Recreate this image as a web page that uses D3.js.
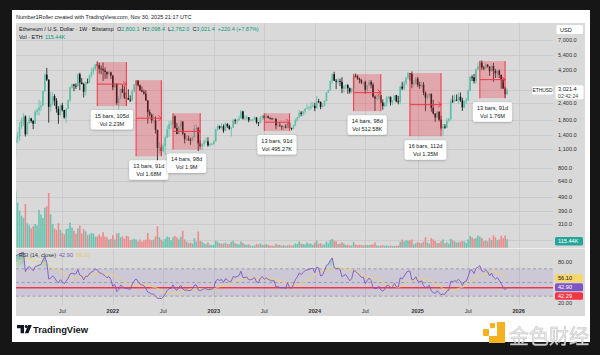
<!DOCTYPE html>
<html><head><meta charset="utf-8">
<script src="https://cdn.jsdelivr.net/npm/d3@7"></script>
<style>
html,body{margin:0;padding:0;background:#161616;}
svg{display:block;font-family:"Liberation Sans",Arial,sans-serif;}
</style></head><body>
<svg id="c" width="600" height="355"></svg>
<script>
// ---------------- DATA ----------------
const startWeek = "2021-01-18";
const firstOpen = 1230;
const warmupCloses = [240,236,310,390,395,433,391,434,353,365,384,355,346,370,366,407,383,455,460,550,575,595,590,640,685,975,1260,1230];
const closes = [
1330,1370,1610,1780,1920,1420,1720,1860,1780,1700,2080,2140,2240,2300,2950,3900,3580,2260,2390,2710,
2510,2180,1970,2320,2140,1890,2190,2530,3150,3300,3230,3220,3930,3410,3330,2920,3420,3410,3840,4070,
4290,4620,4570,4320,4290,4190,4080,3920,4050,3830,
3150,3330,2410,2600,3060,2880,2640,2620,2550,2520,2950,3300,3520,3260,2990,2920,2830,2520,2070,1980,
1800,1800,1530,1130,1140,1070,1170,1350,1550,1680,1700,1930,1580,1430,1620,1760,1440,1310,1320,1290,
1280,1360,1570,1580,1220,1160,1210,1260,1260,1180,1200,1210,
1260,1550,1630,1580,1630,1510,1690,1630,1560,1590,1800,1780,1800,1860,2090,1860,1870,1900,1800,1800,
1830,1890,1740,1720,1890,1950,1870,1930,1880,1860,1830,1850,1650,1650,1630,1610,1620,1590,1730,1580,
1560,1650,1790,1890,2050,2010,2090,2190,2220,2240,2280,2300,
2210,2480,2460,2260,2290,2500,2880,2990,3490,3930,3520,3460,3500,3450,3080,3200,3260,3100,2920,3070,
3820,3780,3660,3570,3420,3440,3020,3250,3450,3290,2690,2600,2610,2750,2430,2290,2420,2660,2680,2440,
2530,2750,2480,2450,3180,3080,3360,3700,3990,3960,3320,3350,3640,
3280,3220,3290,2870,2630,2720,2820,2220,2020,1890,2080,1820,1580,1620,1590,1790,1840,2510,2500,2550,
2530,2680,2520,2240,2500,2540,2970,3750,3720,3490,4260,4480,4780,4390,4310,4610,4470,4140,4510,4150,
3980,4160,3890,3560,3090,2800.1,3021.4];
const highs = [
1440,1475,1750,1880,2040,1960,1750,1950,1880,1810,2150,2200,2550,2480,2980,3990,4370,3600,2900,2890,
2800,2620,2280,2350,2420,2150,2200,2550,3180,3330,3340,3370,4000,4030,3680,3400,3480,3650,3900,4380,
4460,4660,4870,4770,4550,4780,4400,4120,4130,4100,
3880,3410,3360,2700,3070,3280,3190,2900,3040,2740,3020,3320,3580,3550,3300,3190,3030,3000,2530,2160,
2020,2010,1920,1540,1250,1190,1220,1380,1650,1780,1800,2020,1960,1720,1640,1790,1780,1460,1400,1390,
1340,1370,1660,1680,1610,1290,1220,1300,1350,1350,1230,1230,
1290,1560,1680,1650,1720,1680,1740,1720,1670,1600,1840,1850,1840,1950,2140,2120,1960,1960,1900,1850,
1840,1930,1890,1750,1930,1960,1980,2030,1950,1890,1880,1870,1860,1740,1750,1650,1650,1680,1750,1750,
1590,1670,1860,1920,2140,2100,2130,2210,2400,2300,2450,2440,
2420,2720,2590,2470,2400,2530,2900,3030,3520,3990,4090,3620,3680,3640,3730,3280,3300,3320,3130,3120,
3980,3970,3880,3700,3610,3480,3520,3270,3560,3560,3400,2740,2790,2820,2760,2570,2450,2700,2720,2690,
2540,2760,2770,2720,3250,3450,3500,3740,4090,4010,4110,3550,3750,
3740,3450,3450,3440,2930,2800,2850,2830,2550,2030,2100,2100,1950,1690,1690,1860,1880,2600,2740,2790,
2790,2880,2880,2640,2520,2640,3050,3800,3860,3940,4330,4790,4950,4960,4500,4770,4660,4480,4570,4750,
4290,4250,4250,3900,3660,3180,3098.4];
const lows = [
1000,1220,1270,1560,1640,1370,1410,1700,1730,1550,1690,1960,1950,2100,2300,2900,3500,1730,2100,2330,
2300,2050,1700,1950,2090,1850,1720,2170,2450,3080,2950,3060,3150,3000,3300,2650,2740,3360,3400,3700,
3900,4150,4500,3970,3920,3500,3630,3640,3880,3620,
2990,3100,2340,2160,2590,2850,2580,2300,2550,2450,2490,2880,3270,3180,2950,2900,2780,2500,1700,1920,
1710,1740,1440,880,1040,990,1050,1000,1330,1360,1560,1680,1560,1420,1420,1510,1400,1220,1270,1270,
1190,1260,1330,1520,1070,1150,1080,1160,1240,1150,1160,1180,
1190,1260,1510,1540,1560,1460,1500,1580,1530,1370,1580,1690,1690,1780,1850,1820,1800,1800,1740,1790,
1760,1820,1700,1630,1710,1820,1820,1860,1850,1820,1820,1820,1550,1630,1620,1530,1530,1570,1580,1550,
1520,1540,1640,1760,1860,1930,1930,1990,2180,2120,2150,2260,
2100,2200,2410,2170,2230,2280,2490,2860,2980,3350,3500,3050,3360,3210,2850,2870,3060,2820,2820,2860,
3040,3700,3570,3360,3320,3250,2820,2930,3200,3090,2630,2110,2530,2560,2400,2150,2250,2280,2580,2310,
2330,2520,2440,2360,2360,3000,3000,3260,3580,3520,3100,3220,3310,
3160,3070,3140,2750,2100,2550,2630,2080,1990,1750,1860,1760,1540,1385,1560,1570,1740,1780,2410,2440,
2490,2380,2450,2110,2200,2370,2500,2950,3500,3350,3350,4200,4080,4220,4200,4280,4390,3820,4080,3450,
3680,3710,3680,3060,3050,2620,2762.0];
const volumesK = [
760,610,500,430,400,590,330,300,260,290,320,300,510,450,400,540,560,740,450,320,
260,240,330,240,200,180,250,260,340,270,230,190,260,300,190,250,220,170,180,200,
190,150,150,180,150,210,150,140,110,120,
170,110,190,200,140,150,120,160,150,100,110,120,110,85,110,80,100,110,200,110,
100,110,150,290,140,110,90,120,150,140,100,140,160,140,110,150,230,110,80,60,
70,55,130,80,220,90,80,60,45,70,40,35,
40,95,80,60,55,55,70,50,50,80,95,60,50,45,85,65,45,40,45,28,
25,30,50,45,55,40,40,50,35,30,28,25,55,35,40,25,35,25,30,40,
30,35,60,50,85,55,50,45,70,55,55,40,
70,95,50,60,40,45,80,60,100,120,95,85,50,55,75,55,35,40,30,30,
75,45,35,40,35,30,40,35,35,40,45,70,30,28,30,35,25,30,22,30,
22,25,25,30,80,110,85,100,95,100,110,45,60,
75,65,60,80,140,70,55,130,110,90,60,65,85,110,60,75,55,120,100,85,
70,75,80,90,85,65,110,160,140,120,130,165,150,130,90,95,85,130,105,165,
140,100,110,160,130,165,115.44];

const priceTicks = [7000,5400,4200,3000,2400,1800,1400,1100,800,640,490,390,310];
const priceGridExtra = [240];
const timeTickDates = ["2021-07-05","2022-01-03","2022-07-04","2023-01-02","2023-07-03","2024-01-01","2024-07-01","2025-01-06","2025-07-07","2026-01-05"];
const timeTickLabels = ["Jul","2022","Jul","2023","Jul","2024","Jul","2025","Jul","2026"];
const rsiAxisTicks = [80,20];
const rsiLevels = [70,50,30];
const userRsiLine = 42.29;

const rangeStart = ["2021-11-08","2022-03-28","2022-08-08","2023-07-03","2024-05-20","2024-12-09","2025-08-18"];
const rangeEnd   = ["2022-02-21","2022-06-27","2022-11-14","2023-10-02","2024-08-26","2025-03-31","2025-11-17"];
const rangeTop   = [4820,3550,2030,2030,3930,4000,4900];
const rangeBottom= [2290,980,1100,1500,2100,1376,2618];
const rangeLine1 = ["15 bars, 105d","13 bars, 91d","14 bars, 98d","13 bars, 91d","14 bars, 98d","16 bars, 112d","13 bars, 91d"];
const rangeLine2 = ["Vol 2.23M","Vol 1.68M","Vol 1.9M","Vol 495.27K","Vol 512.58K","Vol 1.35M","Vol 1.76M"];

// ---------------- DRAW ----------------
const svg = d3.select("#c");
const parse = d3.utcParse("%Y-%m-%d");
const L=16, R=585, T=23, B=316, AX=553, PB=248, RT=249, RB=305;
const teal="#089981", upC="#5cbfa8", downC="#111111";

const defs = svg.append("defs");
defs.append("clipPath").attr("id","cp").append("rect").attr("x",L).attr("y",T).attr("width",AX-L).attr("height",PB-T);
defs.append("clipPath").attr("id","cr").append("rect").attr("x",L).attr("y",RT).attr("width",AX-L).attr("height",RB-RT);
defs.append("clipPath").attr("id","ca").append("rect").attr("x",AX).attr("y",RT).attr("width",R-AX).attr("height",RB-RT);
const sh = defs.append("filter").attr("id","sh").attr("x","-20%").attr("y","-30%").attr("width","140%").attr("height","160%");
sh.append("feDropShadow").attr("dx",0).attr("dy",0.6).attr("stdDeviation",0.8).attr("flood-color","#000").attr("flood-opacity",0.3);
const gg = defs.append("linearGradient").attr("id","gUp").attr("gradientUnits","userSpaceOnUse");
const gd = defs.append("linearGradient").attr("id","gDn").attr("gradientUnits","userSpaceOnUse");

svg.append("rect").attr("width",600).attr("height",355).attr("fill","#161616");
svg.append("rect").attr("x",12).attr("y",10).attr("width",578).attr("height",332).attr("fill","#ffffff");
svg.append("rect").attr("x",L).attr("y",T).attr("width",R-L).attr("height",B-T).attr("fill","#d9d9d9");

const x = d3.scaleUtc().domain([parse("2022-01-03"), parse("2026-01-05")]).range([112.8, 518.7]);
const y = d3.scaleLog().domain([800,7000]).range([168.3,40]);
const yV = d3.scaleLinear().domain([0,760]).range([247.7,191.4]);
const yR = d3.scaleLinear().domain([20,80]).range([303,262]);

gg.attr("x1",0).attr("y1",yR(100)).attr("x2",0).attr("y2",yR(70));
gg.append("stop").attr("offset","0%").attr("stop-color","#089981").attr("stop-opacity",0.6);
gg.append("stop").attr("offset","100%").attr("stop-color","#089981").attr("stop-opacity",0.05);
gd.attr("x1",0).attr("y1",yR(30)).attr("x2",0).attr("y2",yR(0));
gd.append("stop").attr("offset","0%").attr("stop-color","#f23645").attr("stop-opacity",0.05);
gd.append("stop").attr("offset","100%").attr("stop-color","#f23645").attr("stop-opacity",0.6);

const t0 = parse(startWeek);
const bars = closes.map((c,i)=>({
  d: d3.utcDay.offset(t0, 7*i),
  o: i===0 ? firstOpen : closes[i-1], h: highs[i], l: lows[i], c: c, v: volumesK[i]
}));

// grid
const grid = svg.append("g");
timeTickDates.forEach(s=>{
  const xx = Math.round(x(parse(s)))+0.5;
  grid.append("line").attr("x1",xx).attr("x2",xx).attr("y1",T).attr("y2",RB).attr("stroke","#c8c8c8").attr("stroke-width",0.8);
});
priceTicks.concat(priceGridExtra).forEach(p=>{
  const yy = Math.round(y(p))+0.5;
  if (yy < PB) grid.append("line").attr("x1",L).attr("x2",AX).attr("y1",yy).attr("y2",yy).attr("stroke","#c8c8c8").attr("stroke-width",0.8);
});

// volume
const gp = svg.append("g").attr("clip-path","url(#cp)");
gp.selectAll("rect.v").data(bars).join("rect").attr("class","v")
  .attr("x",d=>x(d.d)-0.8).attr("width",1.6)
  .attr("y",d=>yV(d.v)).attr("height",d=>yV(0)-yV(d.v))
  .attr("fill",d=>d.c>=d.o?"#6cc3b1":"#eb8b8c");

// candles
gp.selectAll("line.w").data(bars).join("line").attr("class","w")
  .attr("x1",d=>x(d.d)).attr("x2",d=>x(d.d)).attr("y1",d=>y(d.h)).attr("y2",d=>y(d.l))
  .attr("stroke",d=>d.c>=d.o?upC:downC).attr("stroke-width",0.8);
gp.selectAll("rect.b").data(bars).join("rect").attr("class","b")
  .attr("x",d=>x(d.d)-0.8).attr("width",1.6)
  .attr("y",d=>y(Math.max(d.o,d.c))).attr("height",d=>Math.max(0.8, Math.abs(y(d.o)-y(d.c))))
  .attr("fill",d=>d.c>=d.o?upC:downC);

// date ranges
const red = "#f23645";
rangeStart.forEach((s,k)=>{
  const x0=x(parse(s)), x1=x(parse(rangeEnd[k])), yt=y(rangeTop[k]), yb=y(rangeBottom[k]), ym=(yt+yb)/2;
  gp.append("rect").attr("x",x0).attr("y",yt).attr("width",x1-x0).attr("height",yb-yt).attr("fill","rgba(242,54,69,0.3)");
  [x0,x1].forEach(xx=>gp.append("line").attr("x1",xx).attr("x2",xx).attr("y1",yt).attr("y2",yb).attr("stroke",red).attr("stroke-width",1));
  gp.append("line").attr("x1",x0).attr("x2",x1).attr("y1",ym).attr("y2",ym).attr("stroke",red).attr("stroke-width",1);
  gp.append("polyline").attr("points",`${x1-3},${ym-3} ${x1},${ym} ${x1-3},${ym+3}`).attr("fill","none").attr("stroke",red).attr("stroke-width",1);
});
rangeStart.forEach((s,k)=>{
  const x0=x(parse(s)), x1=x(parse(rangeEnd[k])), yb=y(rangeBottom[k]), cx=(x0+x1)/2, top=yb+4;
  const g = svg.append("g");
  const r = g.append("rect").attr("y",top).attr("height",19.5).attr("rx",2).attr("fill","#fff").attr("filter","url(#sh)");
  const t1 = g.append("text").attr("x",cx).attr("y",top+8).attr("text-anchor","middle").attr("font-size",5.6).attr("fill","#131722").text(rangeLine1[k]);
  const t2 = g.append("text").attr("x",cx).attr("y",top+16).attr("text-anchor","middle").attr("font-size",5.6).attr("fill","#131722").text(rangeLine2[k]);
  const w = Math.max(t1.node().getComputedTextLength(), t2.node().getComputedTextLength()) + 8;
  r.attr("x",cx-w/2).attr("width",w);
});

// pane separator
svg.append("line").attr("x1",L).attr("x2",R).attr("y1",PB+0.5).attr("y2",PB+0.5).attr("stroke","#eeeeee").attr("stroke-width",1);

// RSI
const all = warmupCloses.concat(closes);
const gains=[NaN], losses=[NaN];
for(let i=1;i<all.length;i++){ const ch=all[i]-all[i-1]; gains.push(Math.max(ch,0)); losses.push(Math.max(-ch,0)); }
function rma(src,n){ const out=[]; let prev=null, buf=[];
  for(let i=0;i<src.length;i++){ const v=src[i]; if(isNaN(v)){out.push(NaN);continue;}
    if(prev===null){ buf.push(v); if(buf.length===n){prev=d3.mean(buf); out.push(prev);} else out.push(NaN); }
    else { prev=(prev*(n-1)+v)/n; out.push(prev); } }
  return out; }
const ag=rma(gains,14), al=rma(losses,14);
const rsiAll = ag.map((g,i)=> isNaN(g)?NaN : (al[i]===0?100:100-100/(1+g/al[i])));
const maAll = rsiAll.map((v,i)=>{ if(i<13) return NaN; const s=rsiAll.slice(i-13,i+1); return s.some(isNaN)?NaN:d3.mean(s); });
const off = warmupCloses.length;
bars.forEach((b,i)=>{ b.r=rsiAll[off+i]; b.m=maAll[off+i]; });

const gr = svg.append("g").attr("clip-path","url(#cr)");
gr.append("rect").attr("x",L).attr("width",AX-L).attr("y",yR(70)).attr("height",yR(30)-yR(70)).attr("fill","rgba(126,87,194,0.13)");
rsiLevels.forEach(v=>{
  gr.append("line").attr("x1",L).attr("x2",AX).attr("y1",yR(v)).attr("y2",yR(v)).attr("stroke","#8c8c96").attr("stroke-width",0.7).attr("stroke-dasharray","3,2.5");
});
const ok = d=>!isNaN(d.r);
gr.append("path").datum(bars.filter(ok)).attr("fill","url(#gUp)")
  .attr("d",d3.area().x(d=>x(d.d)).y0(yR(70)).y1(d=>yR(Math.max(d.r,70))));
gr.append("path").datum(bars.filter(ok)).attr("fill","url(#gDn)")
  .attr("d",d3.area().x(d=>x(d.d)).y0(yR(30)).y1(d=>yR(Math.min(d.r,30))));
gr.append("line").attr("x1",L).attr("x2",AX).attr("y1",yR(userRsiLine)).attr("y2",yR(userRsiLine)).attr("stroke",red).attr("stroke-width",1.3);
gr.append("path").datum(bars.filter(d=>!isNaN(d.m))).attr("fill","none").attr("stroke","#efd46c").attr("stroke-width",0.9)
  .attr("d",d3.line().x(d=>x(d.d)).y(d=>yR(d.m)));
gr.append("path").datum(bars.filter(ok)).attr("fill","none").attr("stroke","#7e57c2").attr("stroke-width",0.9)
  .attr("d",d3.line().x(d=>x(d.d)).y(d=>yR(d.r)));

// RSI legend
const rl = svg.append("text").attr("x",19).attr("y",257).attr("font-size",5.6).attr("fill","#333");
rl.append("tspan").text("RSI (14, close)");
rl.append("tspan").attr("dx",3).attr("fill","#7e57c2").text("42.90");
rl.append("tspan").attr("dx",3).attr("fill","#e9c95a").text("56.10");

// price axis labels
const fmt = d3.format(",.1f");
priceTicks.forEach(p=>{
  svg.append("text").attr("x",558).attr("y",y(p)+2).attr("font-size",5.6).attr("fill","#333").text(fmt(p));
});
const ga = svg.append("g").attr("clip-path","url(#ca)");
rsiAxisTicks.forEach(v=>{
  ga.append("text").attr("x",558).attr("y",yR(v)+2).attr("font-size",5.6).attr("fill","#333").text(d3.format(".2f")(v));
});

// time axis labels
timeTickDates.forEach((s,i)=>{
  svg.append("text").attr("x",x(parse(s))).attr("y",313).attr("text-anchor","middle").attr("font-size",5.6)
    .attr("font-weight",/^\d+$/.test(timeTickLabels[i])?"bold":"normal").attr("fill","#333").text(timeTickLabels[i]);
});

// axis boxes
function box(xx,yy,w,h,fill){ return svg.append("rect").attr("x",xx).attr("y",yy).attr("width",w).attr("height",h).attr("rx",1.5).attr("fill",fill); }
box(556.5,25,26.5,9,"#fff");
svg.append("text").attr("x",560).attr("y",31.6).attr("font-size",5.6).attr("fill","#131722").text("USD");
box(532,86.5,21,8,"#fff");
svg.append("text").attr("x",542.5).attr("y",92.4).attr("text-anchor","middle").attr("font-size",4.9).attr("fill","#131722").text("ETHUSD");
const lastBar = bars[bars.length-1];
box(555.5,y(lastBar.c)-4.5,28,14,"#fff");
svg.append("text").attr("x",558).attr("y",y(lastBar.c)+1.8).attr("font-size",5.6).attr("fill","#131722").text(fmt(lastBar.c));
svg.append("text").attr("x",558).attr("y",y(lastBar.c)+8).attr("font-size",5.2).attr("fill","#444").text("02:42:24");
box(555,237,28,8.5,"#26a69a");
svg.append("text").attr("x",558).attr("y",243.3).attr("font-size",5.6).attr("fill","#fff").text("115.44K");
box(555,yR(56.10)-4,28,8,"#f5d66b");
svg.append("text").attr("x",558).attr("y",yR(56.10)+2).attr("font-size",5.6).attr("fill","#131722").text("56.10");
box(555,yR(42.90)-4,28,8,"#7e57c2");
svg.append("text").attr("x",558).attr("y",yR(42.90)+2).attr("font-size",5.6).attr("fill","#fff").text("42.90");
box(555,292.3,28,7.5,"#f23645");
svg.append("text").attr("x",558).attr("y",298.1).attr("font-size",5.6).attr("fill","#fff").text("42.29");

// header texts
svg.append("text").attr("x",16).attr("y",19).attr("font-size",5.5).attr("fill","#131722")
  .text("Number1Roller created with TradingView.com, Nov 30, 2025 21:17 UTC");
const l2 = svg.append("text").attr("x",19).attr("y",31).attr("font-size",5.5).attr("fill","#131722");
l2.append("tspan").text("Ethereum / U.S. Dollar · 1W · Bitstamp ");
[["O","2,800.1"],["H","3,098.4"],["L","2,762.0"],["C","3,021.4"]].forEach(([k,v],i)=>{
  l2.append("tspan").attr("dx",i===0?2:3).text(k); l2.append("tspan").attr("fill",teal).text(v);
});
l2.append("tspan").attr("dx",3).attr("fill",teal).text("+220.4 (+7.87%)");
const l3 = svg.append("text").attr("x",19).attr("y",38.5).attr("font-size",5.5).attr("fill","#131722");
l3.append("tspan").text("Vol · ETH ");
l3.append("tspan").attr("dx",1).attr("fill",teal).text("115.44K");

// TradingView logo
const lg = svg.append("g").attr("fill","#131722");
lg.append("path").attr("d","M17,325 H24 V333.2 H20.6 V328.2 H17 Z");
lg.append("circle").attr("cx",26.2).attr("cy",326.6).attr("r",1.5);
lg.append("path").attr("d","M28.2,325 H31.8 L28.4,333.2 H24.8 Z");
svg.append("text").attr("x",33).attr("y",332.8).attr("font-size",9.4).attr("font-weight","bold").attr("fill","#131722").text("TradingView");

// watermark
const wm = svg.append("g").attr("fill","#f5b120");
wm.append("rect").attr("x",483).attr("y",329).attr("width",6).attr("height",7).attr("rx",1);
wm.append("path").attr("d","M497,322 H505 V343 H489 V336 H497 Z");
wm.append("rect").attr("x",490).attr("y",323).attr("width",5).attr("height",5).attr("rx",1);
svg.append("text").attr("x",509).attr("y",344).attr("font-size",20).attr("font-family","'Noto Sans CJK SC',sans-serif")
  .attr("fill","#ececec").attr("stroke","#b9b9b9").attr("stroke-width",0.5).attr("opacity",0.9).text("金色财经");
</script>
</body></html>
